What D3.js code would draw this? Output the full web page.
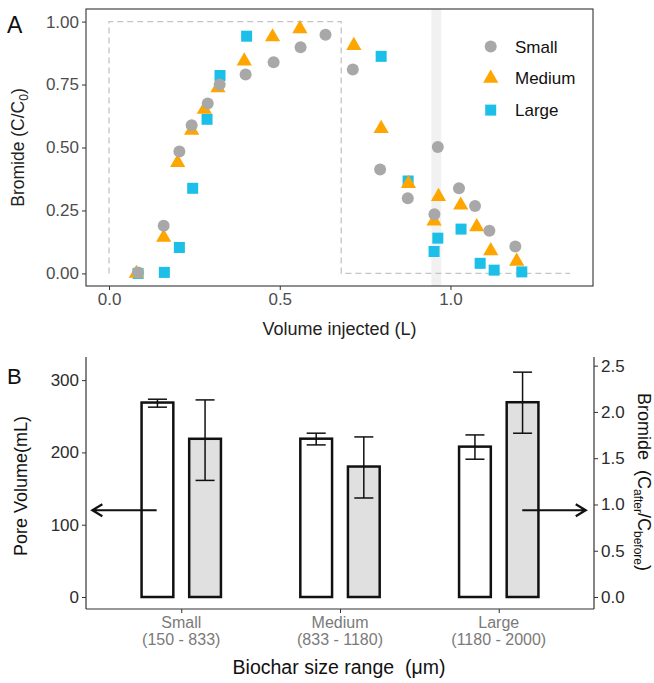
<!DOCTYPE html>
<html>
<head>
<meta charset="utf-8">
<script src="https://cdn.jsdelivr.net/npm/d3@7.9.0/dist/d3.min.js"></script>
<style>
  body { margin: 0; background: #fff; }
  svg { font-family: "Liberation Sans", Arial, sans-serif; }
</style>
</head>
<body>
<svg id="chart" width="654" height="683"></svg>
<script>
// ---- panel A data: breakthrough curves
const smallVol = [0.085, 0.160, 0.206, 0.242, 0.289, 0.324, 0.400, 0.482, 0.561, 0.634, 0.714, 0.794, 0.875, 0.953, 0.963, 1.025, 1.072, 1.114, 1.190];
const smallBr  = [0.004, 0.189, 0.484, 0.588, 0.675, 0.750, 0.790, 0.839, 0.898, 0.948, 0.810, 0.413, 0.298, 0.235, 0.502, 0.338, 0.268, 0.169, 0.107];
const mediumVol = [0.080, 0.160, 0.201, 0.242, 0.279, 0.319, 0.396, 0.479, 0.559, 0.717, 0.797, 0.877, 0.952, 0.965, 1.030, 1.077, 1.118, 1.194];
const mediumBr  = [0.000, 0.143, 0.440, 0.568, 0.651, 0.737, 0.843, 0.939, 0.971, 0.905, 0.575, 0.357, 0.208, 0.305, 0.271, 0.185, 0.090, 0.048];
const largeVol = [0.085, 0.162, 0.206, 0.245, 0.287, 0.325, 0.403, 0.797, 0.876, 0.952, 0.963, 1.031, 1.087, 1.128, 1.209];
const largeBr  = [0.000, 0.004, 0.103, 0.338, 0.612, 0.786, 0.942, 0.862, 0.367, 0.087, 0.140, 0.176, 0.040, 0.013, 0.006];

// injection pulse (dashed) and highlighted band
const pulseVol = [0, 0, 0.68, 0.68, 1.35];
const pulseBr  = [0, 1, 1, 0, 0];
const bandVol = [0.944, 0.973];

const xTicksA = [0, 0.5, 1.0];
const yTicksA = [0, 0.25, 0.5, 0.75, 1.0];

// ---- panel B data
const sizeClasses = ["Small", "Medium", "Large"];
const sizeRanges = ["(150 - 833)", "(833 - 1180)", "(1180 - 2000)"];
const poreVolume = [269, 219, 208];
const poreLow = [262.6, 210.4, 190.6];
const poreHigh = [273.6, 226.6, 224.2];
const bromideRatio = [1.71, 1.41, 2.105];
const bromideLow = [1.26, 1.07, 1.77];
const bromideHigh = [2.13, 1.73, 2.43];
const secFactor = 128; // mL per bromide unit on the right axis
const leftTicksB = [0, 100, 200, 300];
const rightTicksB = [0, 0.5, 1.0, 1.5, 2.0, 2.5];

const svg = d3.select("#chart");

// ================= Panel A =================
const xA = d3.scaleLinear().domain([-0.0675, 1.4175]).range([86, 593]);
const yA = d3.scaleLinear().domain([-0.05, 1.05]).range([286, 9]);

const gA = svg.append("g");

gA.append("rect")
  .attr("x", xA(bandVol[0])).attr("y", yA.range()[1])
  .attr("width", xA(bandVol[1]) - xA(bandVol[0]))
  .attr("height", yA.range()[0] - yA.range()[1])
  .attr("fill", "#f1f1f1");

gA.append("path")
  .datum(d3.zip(pulseVol, pulseBr))
  .attr("d", d3.line().x(d => xA(d[0])).y(d => yA(d[1])))
  .attr("fill", "none")
  .attr("stroke", "#c4c4c4")
  .attr("stroke-width", 1.3)
  .attr("stroke-dasharray", "6,4");

const colSmall = "#a8a8a8", colMedium = "#ffa500", colLarge = "#1cbfe8";
const triangle = d3.symbol().type(d3.symbolTriangle).size(100);

gA.selectAll(".large").data(d3.zip(largeVol, largeBr)).join("rect")
  .attr("x", d => xA(d[0]) - 5.5).attr("y", d => yA(d[1]) - 5.5)
  .attr("width", 11).attr("height", 11)
  .attr("fill", colLarge);

gA.selectAll(".medium").data(d3.zip(mediumVol, mediumBr)).join("path")
  .attr("d", triangle)
  .attr("transform", d => `translate(${xA(d[0])},${yA(d[1])})`)
  .attr("fill", colMedium);

gA.selectAll(".small").data(d3.zip(smallVol, smallBr)).join("circle")
  .attr("cx", d => xA(d[0])).attr("cy", d => yA(d[1]))
  .attr("r", 6)
  .attr("fill", colSmall);

// panel border
gA.append("rect")
  .attr("x", 86).attr("y", 9).attr("width", 593 - 86).attr("height", 286 - 9)
  .attr("fill", "none").attr("stroke", "#333").attr("stroke-width", 1.1);

// axes
const axA_y = gA.append("g").attr("transform", "translate(86,0)")
  .call(d3.axisLeft(yA).tickValues(yTicksA).tickFormat(d3.format(".2f")).tickSize(4).tickPadding(3));
const axA_x = gA.append("g").attr("transform", "translate(0,286)")
  .call(d3.axisBottom(xA).tickValues(xTicksA).tickFormat(d3.format(".1f")).tickSize(4).tickPadding(3));
[axA_y, axA_x].forEach(a => {
  a.select(".domain").remove();
  a.selectAll(".tick line").attr("stroke", "#333");
  a.selectAll(".tick text").attr("fill", "#4d4d4d").style("font-size", "17px");
});

gA.append("text")
  .attr("x", xA.range()[0] + (xA.range()[1] - xA.range()[0]) / 2).attr("y", 335)
  .attr("text-anchor", "middle").style("font-size", "18px").attr("fill", "#222")
  .text("Volume injected (L)");

const yTitleA = gA.append("text")
  .attr("transform", `translate(24,${(yA.range()[0] + yA.range()[1]) / 2}) rotate(-90)`)
  .attr("text-anchor", "middle").style("font-size", "17.5px").attr("fill", "#222");
yTitleA.append("tspan").text("Bromide (C/C");
yTitleA.append("tspan").attr("dy", 4).style("font-size", "12px").text("0");
yTitleA.append("tspan").attr("dy", -4).text(")");

// legend
const legend = [
  { name: "Small", color: colSmall, kind: "circle" },
  { name: "Medium", color: colMedium, kind: "triangle" },
  { name: "Large", color: colLarge, kind: "square" }
];
const lg = gA.append("g");
legend.forEach((d, i) => {
  const cy = 46.5 + i * 31.8, cx = 490.7;
  if (d.kind === "circle") lg.append("circle").attr("cx", cx).attr("cy", cy).attr("r", 6).attr("fill", d.color);
  else if (d.kind === "triangle") lg.append("path").attr("d", triangle).attr("transform", `translate(${cx},${cy})`).attr("fill", d.color);
  else lg.append("rect").attr("x", cx - 5.5).attr("y", cy - 5.5).attr("width", 11).attr("height", 11).attr("fill", d.color);
  lg.append("text").attr("x", 515).attr("y", cy + 6).style("font-size", "17px").attr("fill", "#111").text(d.name);
});

svg.append("text").attr("x", 7).attr("y", 33).style("font-size", "23px").attr("fill", "#111").text("A");

// ================= Panel B =================
const xB = d3.scalePoint().domain(sizeClasses).range([86, 594]).padding(0.6);
const yB = d3.scaleLinear().domain([-16.6, 332]).range([609, 357]);
const yBr = d3.scaleLinear().domain([-16.6 / secFactor, 332 / secFactor]).range([609, 357]);
const step = xB.step();
const barW = 0.2 * step, offset = 0.15 * step, capHalf = 0.3 * barW;

const gB = svg.append("g");

const bars = sizeClasses.map((c, i) => [
  { cx: xB(c) - offset, top: yB(poreVolume[i]), base: yB(0), lo: yB(poreLow[i]), hi: yB(poreHigh[i]), fill: "#fff" },
  { cx: xB(c) + offset, top: yBr(bromideRatio[i]), base: yBr(0), lo: yBr(bromideLow[i]), hi: yBr(bromideHigh[i]), fill: "#e0e0e0" }
]).flat();

gB.selectAll(".bar").data(bars).join("rect")
  .attr("x", d => d.cx - barW / 2).attr("y", d => d.top)
  .attr("width", barW).attr("height", d => d.base - d.top)
  .attr("fill", d => d.fill).attr("stroke", "#111").attr("stroke-width", 2.5);

const eb = gB.selectAll(".err").data(bars).join("g").attr("stroke", "#111").attr("stroke-width", 1.5);
eb.append("line").attr("x1", d => d.cx).attr("x2", d => d.cx).attr("y1", d => d.lo).attr("y2", d => d.hi);
eb.append("line").attr("x1", d => d.cx - capHalf).attr("x2", d => d.cx + capHalf).attr("y1", d => d.lo).attr("y2", d => d.lo);
eb.append("line").attr("x1", d => d.cx - capHalf).attr("x2", d => d.cx + capHalf).attr("y1", d => d.hi).attr("y2", d => d.hi);

// axis lines
const axColor = "#333";
gB.append("line").attr("x1", 86).attr("x2", 86).attr("y1", 357).attr("y2", 609).attr("stroke", axColor).attr("stroke-width", 1.2);
gB.append("line").attr("x1", 594).attr("x2", 594).attr("y1", 357).attr("y2", 609).attr("stroke", axColor).attr("stroke-width", 1.2);
gB.append("line").attr("x1", 86).attr("x2", 594).attr("y1", 609).attr("y2", 609).attr("stroke", axColor).attr("stroke-width", 1.2);

const axB_l = gB.append("g").attr("transform", "translate(86,0)")
  .call(d3.axisLeft(yB).tickValues(leftTicksB).tickSize(4).tickPadding(3));
const axB_r = gB.append("g").attr("transform", "translate(594,0)")
  .call(d3.axisRight(yBr).tickValues(rightTicksB).tickFormat(d3.format(".1f")).tickSize(4).tickPadding(3));
const axB_b = gB.append("g").attr("transform", "translate(0,609)")
  .call(d3.axisBottom(xB).tickSize(4).tickFormat(""));
[axB_l, axB_r, axB_b].forEach(a => {
  a.select(".domain").remove();
  a.selectAll(".tick line").attr("stroke", axColor);
  a.selectAll(".tick text").attr("fill", "#2b2b2b").style("font-size", "17px");
});

// two-line category labels
sizeClasses.forEach((c, i) => {
  gB.append("text").attr("x", xB(c)).attr("y", 628).attr("text-anchor", "middle")
    .style("font-size", "16px").attr("fill", "#7a7a7a").text(c);
  gB.append("text").attr("x", xB(c)).attr("y", 645).attr("text-anchor", "middle")
    .style("font-size", "16px").attr("fill", "#7a7a7a").text(sizeRanges[i]);
});

gB.append("text").attr("x", 339).attr("y", 674).attr("text-anchor", "middle")
  .style("font-size", "19.5px").attr("fill", "#111")
  .attr("xml:space", "preserve").text("Biochar size range  (\u03bcm)");

gB.append("text")
  .attr("transform", `translate(27,486) rotate(-90)`)
  .attr("text-anchor", "middle").style("font-size", "18px").attr("fill", "#111")
  .text("Pore Volume(mL)");

const yTitleR = gB.append("text")
  .attr("transform", `translate(638,482) rotate(90)`)
  .attr("text-anchor", "middle").style("font-size", "18px").attr("fill", "#111")
  .attr("xml:space", "preserve");
yTitleR.append("tspan").text("Bromide  (C");
yTitleR.append("tspan").attr("dy", 4).style("font-size", "12px").text("after");
yTitleR.append("tspan").attr("dy", -4).text("/C");
yTitleR.append("tspan").attr("dy", 4).style("font-size", "12px").text("before");
yTitleR.append("tspan").attr("dy", -4).text(")");

// arrows pointing to the relevant axis (positions in category-step units)
const arrows = [
  { cat: "Small", from: -0.155, to: -0.56, value: 120 },
  { cat: "Large", from: 0.148, to: 0.548, value: 120 }
];
arrows.forEach(a => {
  const x1 = xB(a.cat) + a.from * step, x2 = xB(a.cat) + a.to * step, y = yB(a.value);
  const dir = Math.sign(x2 - x1);
  gB.append("path")
    .attr("d", `M${x1},${y}L${x2},${y}M${x2 - dir * 10},${y - 6}L${x2},${y}L${x2 - dir * 10},${y + 6}`)
    .attr("fill", "none").attr("stroke", "#111").attr("stroke-width", 2.2)
    .attr("stroke-linejoin", "miter");
});

svg.append("text").attr("x", 7).attr("y", 384).style("font-size", "22px").attr("fill", "#111").text("B");
</script>
</body>
</html>
